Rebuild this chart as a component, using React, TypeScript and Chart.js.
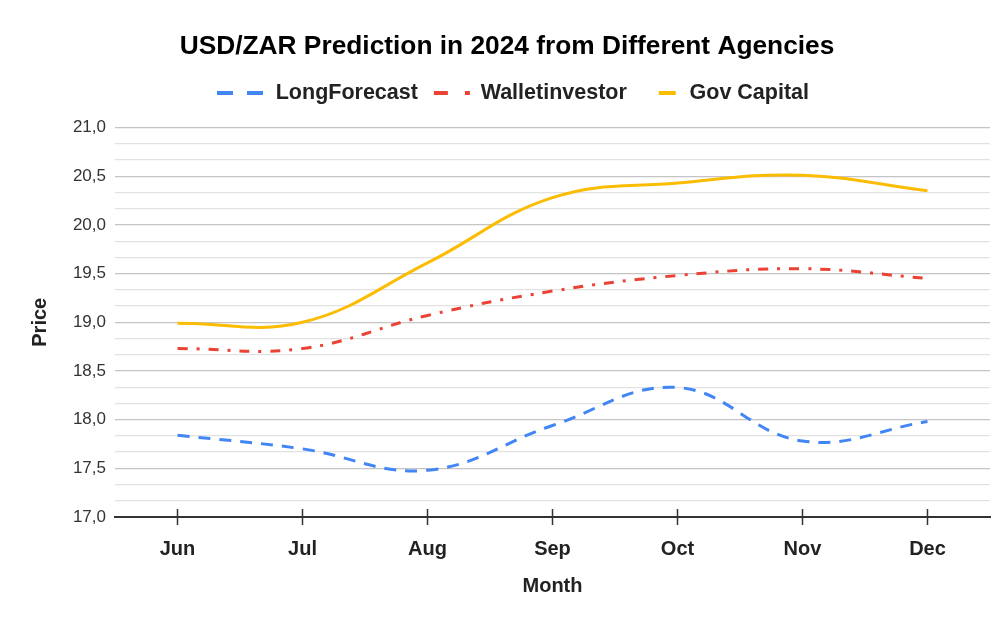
import { useEffect, useRef } from "react";
import { Chart, registerables, layouts } from "chart.js";

Chart.register(...registerables);

const chartTitle = "USD/ZAR Prediction in 2024 from Different Agencies";
const months = ["Jun", "Jul", "Aug", "Sep", "Oct", "Nov", "Dec"];
const seriesNames = ["LongForecast", "Walletinvestor", "Gov Capital"];
const longForecast = [17.84, 17.7, 17.48, 17.94, 18.33, 17.78, 17.98];
const walletInvestor = [18.73, 18.73, 19.07, 19.32, 19.48, 19.55, 19.45];
const govCapital = [18.99, 19.0, 19.61, 20.28, 20.43, 20.51, 20.35];
const yMin = 17;
const yMax = 21;
const xTitle = "Month";
const yTitle = "Price";

const FONT = "'Liberation Sans', Arial, sans-serif";
const colors = ["#4285F4", "#EA4335", "#FBBC04"];
const lineDashes = [[12, 9], [10, 9, 3, 9], []];
const legendDashes = [[16, 14, 16, 100], [0, 12, 14, 17, 5, 100], [0, 28, 17, 100]];

const isMajor = (v: number) => Math.abs(v * 2 - Math.round(v * 2)) < 1e-6;

const tickUpPlugin = {
  id: "tickUp",
  afterDraw(chart: any) {
    const xs = chart.scales.x;
    const { ctx, chartArea } = chart;
    ctx.save();
    ctx.strokeStyle = "#333";
    ctx.lineWidth = 1.5;
    xs.ticks.forEach((_: any, i: number) => {
      const px = xs.getPixelForTick(i);
      ctx.beginPath();
      ctx.moveTo(px, chartArea.bottom - 8);
      ctx.lineTo(px, chartArea.bottom);
      ctx.stroke();
    });
    ctx.restore();
  },
};

// empty layout box placed under the legend to leave a gap above the plot
const SPACER = 13.8;
const spacerPlugin = {
  id: "legendSpacer",
  beforeInit(chart: any) {
    const box: any = {
      position: "top",
      weight: 500,
      fullSize: true,
      options: { stackWeight: 1 },
      width: 0,
      height: SPACER,
      left: 0,
      top: 0,
      right: 0,
      bottom: 0,
      isHorizontal: () => true,
      update(maxWidth: number) {
        this.width = maxWidth;
        this.height = SPACER;
      },
      draw() {},
    };
    layouts.addBox(chart, box);
  },
  afterLayout(chart: any) {
    if (chart.legend) {
      chart.legend.left += 6;
      chart.legend.right += 6;
    }
  },
};

export default function App() {
  const ref = useRef<HTMLCanvasElement | null>(null);

  useEffect(() => {
    if (!ref.current) return;
    Chart.defaults.font.family = FONT;
    const allSeries = [longForecast, walletInvestor, govCapital];
    const chart = new Chart(ref.current, {
      type: "line",
      data: {
        labels: months,
        datasets: allSeries.map((d, i) => ({
          label: seriesNames[i],
          data: d,
          borderColor: colors[i],
          backgroundColor: colors[i],
          borderWidth: 3,
          borderDash: lineDashes[i],
          pointRadius: 0,
          tension: 0.4,
          fill: false,
        })),
      },
      options: {
        animation: false,
        responsive: true,
        maintainAspectRatio: false,
        layout: { padding: { left: 24, right: 10, top: 0, bottom: 16 } },
        plugins: {
          title: {
            display: true,
            text: chartTitle,
            color: "#000",
            font: { family: FONT, size: 26.3, weight: "bold" },
            padding: { top: 31.2, bottom: 15.45 },
          },
          legend: {
            position: "top",
            labels: {
              usePointStyle: true,
              pointStyleWidth: 48,
              padding: 4,
              color: "#222",
              font: { family: FONT, size: 21.5, weight: "bold" },
              generateLabels: (c: any) => {
                const items = (Chart.defaults.plugins.legend.labels as any).generateLabels(c);
                return items.map((it: any, i: number) => ({
                  ...it,
                  pointStyle: "line",
                  lineWidth: 4,
                  lineDash: legendDashes[i],
                  lineCap: "butt",
                  strokeStyle: colors[i],
                  fillStyle: colors[i],
                  rotation: 0,
                }));
              },
            },
          },
          tooltip: { enabled: false },
        },
        scales: {
          x: {
            offset: true,
            grid: {
              display: true,
              drawOnChartArea: false,
              drawTicks: true,
              tickLength: 8,
              tickColor: "#333",
              tickWidth: 1.5,
            },
            border: { display: true, color: "#333", width: 2 },
            ticks: {
              padding: 12,
              color: "#222",
              font: { family: FONT, size: 20, weight: "bold" },
            },
            title: {
              display: true,
              text: xTitle,
              color: "#222",
              font: { family: FONT, size: 20, weight: "bold" },
            },
            afterFit: (s: any) => {
              s.height = 85;
            },
          },
          y: {
            min: yMin,
            max: yMax,
            ticks: {
              count: 25,
              autoSkip: false,
              padding: 9,
              color: "#333",
              font: { family: FONT, size: 17 },
              callback: (v: any) => (isMajor(Number(v)) ? Number(v).toFixed(1).replace(".", ",") : ""),
            },
            grid: {
              drawTicks: false,
              lineWidth: 1.2,
              color: (ctx: any) => (ctx.tick && isMajor(ctx.tick.value) ? "#c4c4c4" : "#e2e2e2"),
            },
            border: { display: false },
            title: {
              display: true,
              text: yTitle,
              color: "#222",
              font: { family: FONT, size: 20, weight: "bold" },
            },
            afterFit: (s: any) => {
              s.width = 91;
            },
          },
        },
      } as any,
      plugins: [spacerPlugin, tickUpPlugin],
    });
    return () => chart.destroy();
  }, []);

  return (
    <div style={{ position: "fixed", left: 0, top: 0, width: 1000, height: 618, background: "#fff" }}>
      <canvas ref={ref} />
    </div>
  );
}
